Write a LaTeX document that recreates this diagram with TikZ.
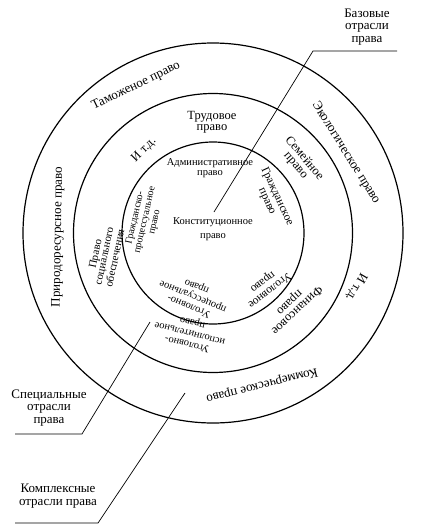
\documentclass[tikz,border=0pt]{standalone}
\usepackage{fontspec}
\setmainfont{Liberation Serif}
\begin{document}
\begin{tikzpicture}[x=1pt,y=-1pt,
  ring/.style={line width=1.2pt},
  lead/.style={line width=0.7pt},
  txt/.style={align=center,inner sep=0pt},
  fin/.style={txt,font=\fontsize{10.5}{10.5}\selectfont},
  fmid/.style={txt,font=\fontsize{12.5}{11}\selectfont},
  fout/.style={txt,font=\fontsize{13}{13}\selectfont},
  flab/.style={txt,font=\fontsize{13}{12.8}\selectfont}]
\useasboundingbox (0,0) rectangle (421,525);
\coordinate (c) at (213,233);
\draw[ring] (c) circle[radius=190pt];
\draw[ring] (c) circle[radius=139.5pt];
\draw[ring] (c) circle[radius=91pt];

% inner circle
\node[fin] (adm) at (210,168) {Административное\\право};
\node[txt,font=\fontsize{10.5}{14}\selectfont] (kon) at (213,229) {Конституционное\\право};
\node[txt,font=\fontsize{11.5}{11}\selectfont,rotate=-65] (grazh) at (272,199) {Гражданское\\право};
\node[txt,font=\fontsize{10}{10}\selectfont,rotate=77] (gpp) at (145,220) {Гражданско-\\процессуальное\\право};
\node[txt,font=\fontsize{11.5}{11}\selectfont,rotate=218] (ugol) at (266,286) {Уголовное\\право};
\node[fin,rotate=158] (upp) at (193,296) {Уголовно-\\процессуальное\\право};

% middle ring
\node[fmid] (trud) at (212,122) {Трудовое\\право};
\node[fmid,rotate=-50] (sem) at (300,162) {Семейное\\право};
\node[fmid,rotate=45] (itd1) at (144,150) {И т.д.};
\node[txt,font=\fontsize{11}{9}\selectfont,rotate=78] (pso) at (105,256) {Право\\социального\\обеспечения};
\node[txt,font=\fontsize{10.5}{11}\selectfont,rotate=166] (uip) at (190,333) {Уголовно-\\исполнительное\\право};
\node[fmid,rotate=223] (fin) at (293,306) {Финансовое\\право};

% outer ring
\node[fout,rotate=26] (tam) at (136,86) {Таможеное право};
\node[fout,rotate=-58] (eko) at (346,153) {Экологическое право};
\node[fout,rotate=89] (prir) at (58,237) {Природоресурсное право};
\node[fout,rotate=240] (itd2) at (356,287) {И т.д.};
\node[fout,rotate=194] (kom) at (262,385) {Коммерческое право};

% labels
\node[flab] (baz) at (367,27) {Базовые\\отрасли\\права};
\node[flab] (spec) at (49,408) {Специальные\\отрасли\\права};
\node[flab] (kompl) at (58,496) {Комплексные\\отрасли права};

\coordinate (bazA) at (397,51);
\coordinate (bazB) at (313,51);
\coordinate (bazC) at (214,212);
\coordinate (specA) at (15,434);
\coordinate (specB) at (82,434);
\coordinate (specC) at (150,322);
\coordinate (komA) at (15,523);
\coordinate (komB) at (98,523);
\coordinate (komC) at (185,393);
\draw[lead] (bazA) -- (bazB) -- (bazC);
\draw[lead] (specA) -- (specB) -- (specC);
\draw[lead] (komA) -- (komB) -- (komC);
\end{tikzpicture}
\end{document}
